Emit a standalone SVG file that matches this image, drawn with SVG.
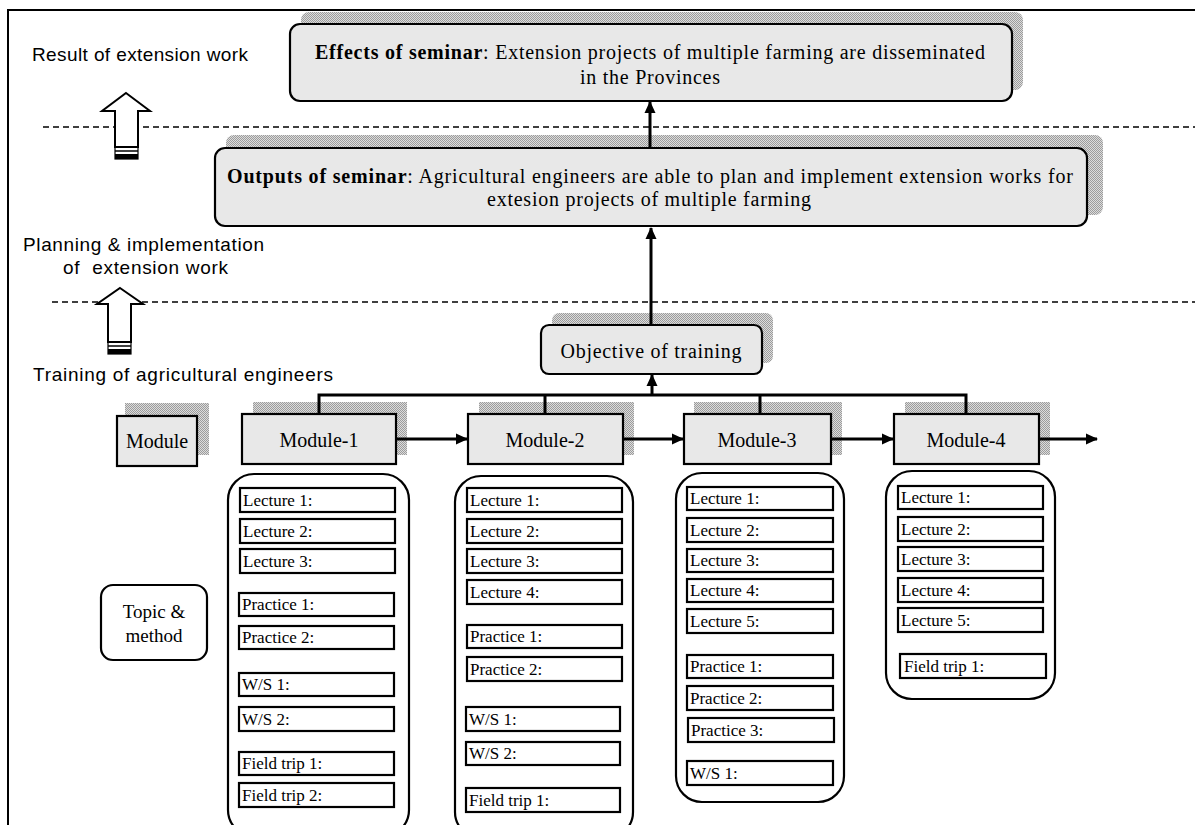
<svg xmlns="http://www.w3.org/2000/svg" width="1195" height="825" viewBox="0 0 1195 825">
<defs>
<pattern id="hatch" width="2" height="2" patternUnits="userSpaceOnUse">
<rect width="2" height="2" fill="#dcdcdc"/>
<rect width="1" height="1" fill="#9c9c9c"/>
<rect x="1" y="1" width="1" height="1" fill="#9c9c9c"/>
</pattern>
<marker id="ah" markerUnits="userSpaceOnUse" markerWidth="12" markerHeight="12" viewBox="0 0 12 12" refX="11" refY="6" orient="auto">
<path d="M0,0.5 L12,6 L0,11.5 z" fill="#000"/>
</marker>
<style>
.sh{fill:url(#hatch);stroke:none}
.gbox{fill:#e8e8e8;stroke:#000;stroke-width:2.2}
.cont{fill:#fff;stroke:#000;stroke-width:2.2}
.item{fill:#fff;stroke:#000;stroke-width:2.2}
.tm{font-family:"Liberation Serif","Times New Roman",serif;fill:#000}
.ts{font-family:"Liberation Sans",Arial,sans-serif;fill:#000;font-size:19px}
.big{font-size:20px}
.it{font-size:17px}
.con{fill:none;stroke:#000;stroke-width:3}
.dash{fill:none;stroke:#000;stroke-width:1.6;stroke-dasharray:6 4}
.blk{fill:#fff;stroke:#000;stroke-width:2}
</style>
</defs>
<rect width="1195" height="825" fill="#fff"/>

<g id="frame">
<path d="M8,825 V10 H1195" fill="none" stroke="#000" stroke-width="2"/>
</g>

<g id="dividers">
<line class="dash" x1="43" y1="127" x2="1195" y2="127"/>
<line class="dash" x1="52" y1="302" x2="1195" y2="302"/>
</g>

<g id="level-arrows">
<polygon class="blk" points="126,93 150,111 138,111 138,147 115,147 115,111 102,111"/>
<line x1="115" y1="151" x2="138" y2="151" stroke="#000" stroke-width="1.5"/>
<rect x="115" y="154" width="23" height="5" fill="#000"/>
<rect x="115" y="147" width="23" height="12" fill="none" stroke="#000" stroke-width="1.2"/>
<polygon class="blk" points="120,288 143,304 131,304 131,342 108,342 108,304 97,304"/>
<line x1="108" y1="346" x2="131" y2="346" stroke="#000" stroke-width="1.5"/>
<rect x="108" y="349" width="23" height="5" fill="#000"/>
<rect x="108" y="342" width="23" height="12" fill="none" stroke="#000" stroke-width="1.2"/>
</g>

<g id="level-labels">
<text class="ts" x="32" y="61" textLength="216" lengthAdjust="spacing">Result of extension work</text>
<text class="ts" x="23" y="251" textLength="241" lengthAdjust="spacing">Planning &amp; implementation</text>
<text class="ts" x="63" y="274" textLength="165" lengthAdjust="spacing" style="white-space:pre">of  extension work</text>
<text class="ts" x="33" y="381" textLength="300" lengthAdjust="spacing">Training of agricultural engineers</text>
</g>

<g id="effects">
<rect class="sh" x="301" y="12" width="722" height="78" rx="8"/>
<rect class="gbox" x="290" y="24" width="722" height="77" rx="10"/>
<text class="tm big" x="650" y="59" text-anchor="middle" textLength="670" lengthAdjust="spacing"><tspan font-weight="bold">Effects of seminar</tspan>: Extension projects of multiple farming are disseminated</text>
<text class="tm big" x="650" y="84" text-anchor="middle" textLength="140" lengthAdjust="spacing">in the Provinces</text>
</g>

<g id="outputs">
<rect class="sh" x="226" y="135" width="877" height="80" rx="8"/>
<rect class="gbox" x="215" y="148" width="872" height="78" rx="10"/>
<text class="tm big" x="650" y="183" text-anchor="middle" textLength="846" lengthAdjust="spacing"><tspan font-weight="bold">Outputs of seminar</tspan>: Agricultural engineers are able to plan and implement extension works for</text>
<text class="tm big" x="649" y="206" text-anchor="middle" textLength="324" lengthAdjust="spacing">extesion projects of multiple farming</text>
</g>

<g id="objective">
<rect class="sh" x="552" y="313" width="221" height="50" rx="7"/>
<rect class="gbox" x="541" y="325" width="221" height="49" rx="8"/>
<text class="tm big" x="651" y="358" text-anchor="middle" textLength="181" lengthAdjust="spacing">Objective of training</text>
</g>

<g id="module-label">
<rect class="sh" x="125" y="403" width="84" height="52"/>
<rect class="gbox" x="117" y="416" width="80" height="50"/>
<text class="tm big" x="157" y="448" text-anchor="middle">Module</text>
</g>

<g id="topic-method">
<rect class="cont" x="101" y="585" width="106" height="75" rx="12"/>
<text class="tm" font-size="19" x="154" y="618" text-anchor="middle">Topic &amp;</text>
<text class="tm" font-size="19" x="154" y="642" text-anchor="middle">method</text>
</g>

<g id="module-1">
<rect class="sh" x="253" y="402" width="154" height="53"/>
<rect class="gbox" x="242" y="414" width="154" height="50"/>
<text class="tm big" x="319" y="447" text-anchor="middle">Module-1</text>
</g>
<g id="module-2">
<rect class="sh" x="479" y="402" width="155" height="53"/>
<rect class="gbox" x="468" y="414" width="155" height="50"/>
<text class="tm big" x="545" y="447" text-anchor="middle">Module-2</text>
</g>
<g id="module-3">
<rect class="sh" x="694" y="402" width="148" height="53"/>
<rect class="gbox" x="684" y="414" width="147" height="50"/>
<text class="tm big" x="757" y="447" text-anchor="middle">Module-3</text>
</g>
<g id="module-4">
<rect class="sh" x="905" y="402" width="145" height="53"/>
<rect class="gbox" x="894" y="414" width="145" height="50"/>
<text class="tm big" x="966" y="447" text-anchor="middle">Module-4</text>
</g>

<g id="topics-1">
<rect class="cont" x="228" y="474" width="181" height="362" rx="26"/>
<rect class="item" x="240" y="488" width="155" height="24"/><text class="tm it" x="243" y="506">Lecture 1:</text>
<rect class="item" x="240" y="519" width="155" height="24"/><text class="tm it" x="243" y="537">Lecture 2:</text>
<rect class="item" x="240" y="549" width="155" height="24"/><text class="tm it" x="243" y="567">Lecture 3:</text>
<rect class="item" x="239" y="593" width="155" height="23"/><text class="tm it" x="242" y="610">Practice 1:</text>
<rect class="item" x="239" y="626" width="155" height="23"/><text class="tm it" x="242" y="643">Practice 2:</text>
<rect class="item" x="239" y="673" width="155" height="23"/><text class="tm it" x="242" y="690">W/S 1:</text>
<rect class="item" x="239" y="707" width="155" height="24"/><text class="tm it" x="242" y="725">W/S 2:</text>
<rect class="item" x="239" y="752" width="155" height="23"/><text class="tm it" x="242" y="769">Field trip 1:</text>
<rect class="item" x="239" y="783" width="155" height="24"/><text class="tm it" x="242" y="801">Field trip 2:</text>
</g>

<g id="topics-2">
<rect class="cont" x="455" y="476" width="178" height="362" rx="26"/>
<rect class="item" x="467" y="488" width="155" height="24"/><text class="tm it" x="470" y="506">Lecture 1:</text>
<rect class="item" x="467" y="519" width="155" height="24"/><text class="tm it" x="470" y="537">Lecture 2:</text>
<rect class="item" x="467" y="549" width="155" height="24"/><text class="tm it" x="470" y="567">Lecture 3:</text>
<rect class="item" x="467" y="580" width="155" height="24"/><text class="tm it" x="470" y="598">Lecture 4:</text>
<rect class="item" x="467" y="625" width="155" height="23"/><text class="tm it" x="470" y="642">Practice 1:</text>
<rect class="item" x="467" y="657" width="155" height="24"/><text class="tm it" x="470" y="675">Practice 2:</text>
<rect class="item" x="466" y="707" width="154" height="24"/><text class="tm it" x="469" y="725">W/S 1:</text>
<rect class="item" x="466" y="742" width="154" height="23"/><text class="tm it" x="469" y="759">W/S 2:</text>
<rect class="item" x="466" y="788" width="154" height="24"/><text class="tm it" x="469" y="806">Field trip 1:</text>
</g>

<g id="topics-3">
<rect class="cont" x="676" y="473" width="168" height="329" rx="26"/>
<rect class="item" x="687" y="487" width="146" height="23"/><text class="tm it" x="690" y="504">Lecture 1:</text>
<rect class="item" x="687" y="518" width="146" height="24"/><text class="tm it" x="690" y="536">Lecture 2:</text>
<rect class="item" x="687" y="549" width="146" height="23"/><text class="tm it" x="690" y="566">Lecture 3:</text>
<rect class="item" x="687" y="579" width="146" height="23"/><text class="tm it" x="690" y="596">Lecture 4:</text>
<rect class="item" x="687" y="609" width="146" height="24"/><text class="tm it" x="690" y="627">Lecture 5:</text>
<rect class="item" x="687" y="655" width="146" height="23"/><text class="tm it" x="690" y="672">Practice 1:</text>
<rect class="item" x="687" y="686" width="146" height="24"/><text class="tm it" x="690" y="704">Practice 2:</text>
<rect class="item" x="688" y="718" width="146" height="24"/><text class="tm it" x="691" y="736">Practice 3:</text>
<rect class="item" x="687" y="761" width="146" height="24"/><text class="tm it" x="690" y="779">W/S 1:</text>
</g>

<g id="topics-4">
<rect class="cont" x="886" y="471" width="169" height="228" rx="26"/>
<rect class="item" x="898" y="486" width="145" height="23"/><text class="tm it" x="901" y="503">Lecture 1:</text>
<rect class="item" x="898" y="517" width="145" height="24"/><text class="tm it" x="901" y="535">Lecture 2:</text>
<rect class="item" x="898" y="547" width="145" height="24"/><text class="tm it" x="901" y="565">Lecture 3:</text>
<rect class="item" x="898" y="578" width="145" height="24"/><text class="tm it" x="901" y="596">Lecture 4:</text>
<rect class="item" x="898" y="608" width="145" height="24"/><text class="tm it" x="901" y="626">Lecture 5:</text>
<rect class="item" x="900" y="654" width="146" height="24"/><text class="tm it" x="904" y="672">Field trip 1:</text>
</g>

<g id="connectors">
<line class="con" x1="650" y1="148" x2="650" y2="102" marker-end="url(#ah)"/>
<line class="con" x1="651" y1="325" x2="651" y2="228" marker-end="url(#ah)"/>
<line class="con" x1="652" y1="395" x2="652" y2="375" marker-end="url(#ah)"/>
<path class="con" d="M319,414 V395 H966 V414 M545,395 V414 M760,395 V414"/>
<line class="con" x1="396" y1="439" x2="467" y2="439" marker-end="url(#ah)"/>
<line class="con" x1="623" y1="439" x2="683" y2="439" marker-end="url(#ah)"/>
<line class="con" x1="831" y1="439" x2="893" y2="439" marker-end="url(#ah)"/>
<line class="con" x1="1039" y1="439" x2="1097" y2="439" marker-end="url(#ah)"/>
</g>
</svg>
